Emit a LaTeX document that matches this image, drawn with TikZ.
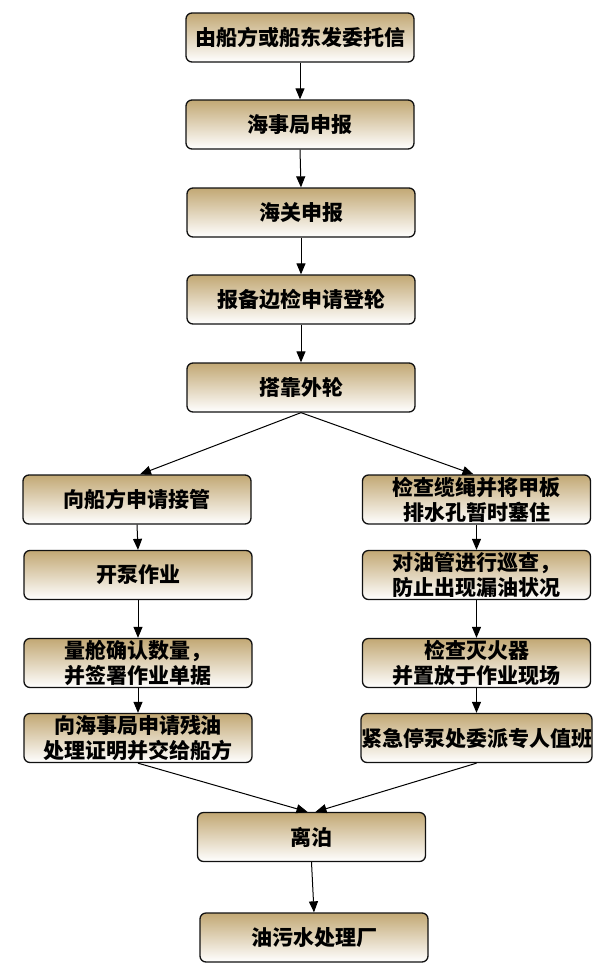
\documentclass[tikz,border=0pt]{standalone}
\usepackage{fontspec}
\newfontfamily\cjk{Noto Sans CJK SC}
\usetikzlibrary{arrows.meta}
\usepackage{xcolor}
\definecolor{boxtop}{HTML}{C2A874}
\definecolor{boxline}{HTML}{111111}

\begin{document}
\begin{tikzpicture}[x=1pt,y=-1pt,
		stepbox/.style={draw=boxline,line width=1.3pt,rounded corners=6pt,top color=boxtop,bottom color=white,minimum width=228pt,minimum height=49pt,inner sep=0pt,align=center,font=\cjk\bfseries\fontsize{21}{25}\selectfont},
		flow/.style={draw=black,line width=1pt,-{Triangle[length=11pt,width=9pt]}}]
		\useasboundingbox (0,0) rectangle (600,975);
		%
		% main column
		\node[stepbox] (s1) at (300,37.5) {由船方或船东发委托信};
		\node[stepbox] (s2) at (300,124.5) {海事局申报};
		\node[stepbox] (s3) at (301,212.5) {海关申报};
		\node[stepbox] (s4) at (301,299.5) {报备边检申请登轮};
		\node[stepbox] (s5) at (301,387.5) {搭靠外轮};
		%
		% left column
		\node[stepbox] (l1) at (137,499.5) {向船方申请接管};
		\node[stepbox] (l2) at (138,575) {开泵作业};
		\node[stepbox] (l3) at (138,663) {量舱确认数量，\\并签署作业单据};
		\node[stepbox] (l4) at (138,738) {向海事局申请残油\\处理证明并交给船方};
		%
		% right column
		\node[stepbox] (r1) at (476.5,499.5) {检查缆绳并将甲板\\排水孔暂时塞住};
		\node[stepbox] (r2) at (476.5,575) {对油管进行巡查，\\防止出现漏油状况};
		\node[stepbox] (r3) at (476.5,663) {检查灭火器\\并置放于作业现场};
		\node[stepbox] (r4) at (476.5,738) {紧急停泵处委派专人值班};
		%
		% bottom
		\node[stepbox] (b1) at (311.5,837) {离泊};
		\node[stepbox] (b2) at (314,937.5) {油污水处理厂};
		%
		% arrows
		\draw[flow] (s1.south) -- (s2.north);
		\draw[flow] (s2.south) -- (s3.north);
		\draw[flow] (s3.south) -- (s4.north);
		\draw[flow] (s4.south) -- (s5.north);
		\draw[flow] (s5.south) -- ([xshift=3pt]l1.north);
		\draw[flow] (s5.south) -- ([xshift=-3pt]r1.north);
		\draw[flow] (l1.south) -- (l2.north);
		\draw[flow] (l2.south) -- (l3.north);
		\draw[flow] (l3.south) -- (l4.north);
		\draw[flow] (r1.south) -- (r2.north);
		\draw[flow] (r2.south) -- (r3.north);
		\draw[flow] (r3.south) -- (r4.north);
		\draw[flow] (l4.south) -- ([xshift=-4pt]b1.north);
		\draw[flow] (r4.south) -- ([xshift=4pt]b1.north);
		\draw[flow] (b1.south) -- (b2.north);
\end{tikzpicture}
\end{document}
